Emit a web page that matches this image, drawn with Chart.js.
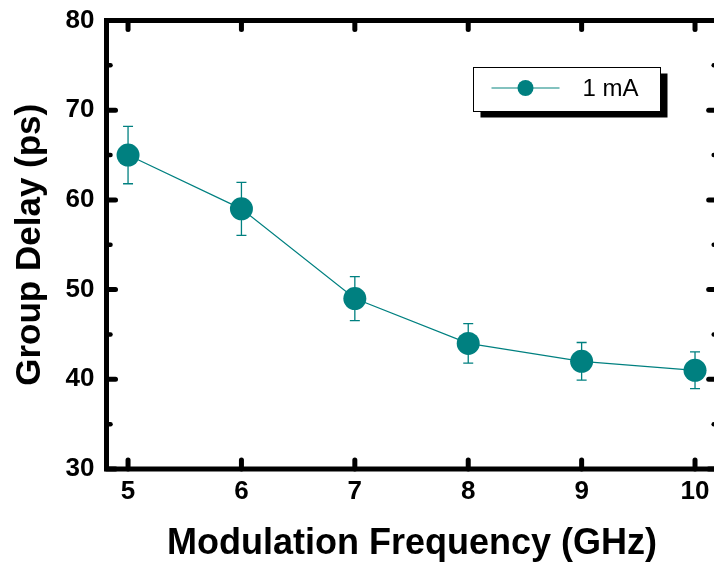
<!DOCTYPE html>
<html>
<head>
<meta charset="utf-8">
<script src="https://cdn.jsdelivr.net/npm/chart.js@4.4.1/dist/chart.umd.min.js"></script>
<style>
  html, body { margin: 0; padding: 0; width: 714px; height: 566px; overflow: hidden; background: #fff; }
  canvas { display: block; }
</style>
</head>
<body>
<canvas id="myChart" width="724" height="566"></canvas>
<script>
// data
const frequencies = [5, 6, 7, 8, 9, 10];
const groupDelay = [65, 59, 49, 44, 42, 41];
const delayError = [3.2, 2.95, 2.45, 2.2, 2.1, 2.05];
const xTicks = [5, 6, 7, 8, 9, 10];
const yTicks = [30, 40, 50, 60, 70, 80];
const yMinorTicks = [35, 45, 55, 65, 75];
const seriesLabel = "1 mA";

const FONT = '"Liberation Sans", Arial, sans-serif';
const TEAL = "#008080";

// vertical error bars with caps, drawn under the markers
const errorBars = {
  id: "errorBars",
  beforeDatasetsDraw(chart) {
    const { ctx, scales: { x, y } } = chart;
    ctx.save();
    ctx.strokeStyle = TEAL;
    ctx.lineWidth = 1.3;
    frequencies.forEach((f, i) => {
      const px = x.getPixelForValue(f);
      const top = y.getPixelForValue(groupDelay[i] + delayError[i]);
      const bot = y.getPixelForValue(groupDelay[i] - delayError[i]);
      ctx.beginPath();
      ctx.moveTo(px, top); ctx.lineTo(px, bot);
      ctx.moveTo(px - 5, top); ctx.lineTo(px + 5, top);
      ctx.moveTo(px - 5, bot); ctx.lineTo(px + 5, bot);
      ctx.stroke();
    });
    ctx.restore();
  }
};

// thick box frame with inward ticks on all four sides
const frame = {
  id: "frame",
  afterDraw(chart) {
    const { ctx, chartArea: a, scales: { x, y } } = chart;
    ctx.save();
    ctx.strokeStyle = "#000";
    ctx.lineWidth = 5;
    ctx.lineJoin = "miter";
    ctx.strokeRect(a.left, a.top, a.right - a.left, a.bottom - a.top);

    const tick = (x1, y1, x2, y2) => {
      ctx.beginPath(); ctx.moveTo(x1, y1); ctx.lineTo(x2, y2); ctx.stroke();
    };
    ctx.lineCap = "round";
    ctx.lineWidth = 5;
    xTicks.forEach(v => {
      const px = x.getPixelForValue(v);
      tick(px, a.bottom, px, a.bottom - 9);
      tick(px, a.top, px, a.top + 9);
    });
    yTicks.forEach(v => {
      const py = y.getPixelForValue(v);
      tick(a.left, py, a.left + 9, py);
      tick(a.right, py, a.right - 9, py);
    });
    ctx.lineWidth = 4.5;
    yMinorTicks.forEach(v => {
      const py = y.getPixelForValue(v);
      tick(a.left, py, a.left + 4, py);
      tick(a.right, py, a.right - 4, py);
    });
    ctx.restore();
  }
};

// boxed legend with a drop shadow
const legendBox = {
  id: "legendBox",
  afterDraw(chart) {
    const { ctx } = chart;
    const bx = 473.5, by = 67.5, bw = 187, bh = 44;
    ctx.save();
    ctx.fillStyle = "#000";
    ctx.fillRect(bx + 7, by + 6, bw, bh);
    ctx.fillStyle = "#fff";
    ctx.fillRect(bx, by, bw, bh);
    ctx.strokeStyle = "#000";
    ctx.lineWidth = 1;
    ctx.strokeRect(bx, by, bw, bh);
    const cy = by + 20.5;
    ctx.strokeStyle = "#5aaeaa";
    ctx.lineWidth = 1.5;
    ctx.beginPath(); ctx.moveTo(bx + 18, cy); ctx.lineTo(bx + 86, cy); ctx.stroke();
    ctx.fillStyle = TEAL;
    ctx.beginPath(); ctx.arc(bx + 52, cy, 8, 0, Math.PI * 2); ctx.fill();
    ctx.fillStyle = "#000";
    ctx.font = "24px " + FONT;
    ctx.textBaseline = "middle";
    ctx.fillText(seriesLabel, bx + 109, cy + 1);
    ctx.restore();
  }
};

const ctx = document.getElementById("myChart");

new Chart(ctx, {
  type: "scatter",
  data: {
    datasets: [
      {
        label: seriesLabel,
        data: frequencies.map((f, i) => ({ x: f, y: groupDelay[i] })),
        showLine: true,
        borderColor: TEAL,
        borderWidth: 1.2,
        pointRadius: 11.5,
        pointBackgroundColor: TEAL,
        pointBorderWidth: 0,
      },
    ],
  },
  options: {
    responsive: false,
    animation: false,
    // canvas is a bit wider than the page so the right frame edge is cut off
    layout: { autoPadding: false, padding: { top: 20.5, right: 6.3, bottom: 0, left: 0 } },
    plugins: {
      legend: { display: false },
      tooltip: { enabled: false },
    },
    scales: {
      x: {
        type: "linear",
        min: 4.81,
        max: 10.2,
        afterBuildTicks: (s) => { s.ticks = xTicks.map(v => ({ value: v })); },
        afterFit: (s) => { s.height = 97; s.paddingLeft = 0; s.paddingRight = 0; },
        grid: { display: false, drawTicks: false },
        border: { display: false },
        ticks: {
          color: "#000",
          padding: 7,
          maxRotation: 0,
          font: { family: FONT, weight: "bold", size: 26 },
        },
        title: {
          display: true,
          text: "Modulation Frequency (GHz)",
          color: "#000",
          padding: { top: 0, bottom: 0 },
          font: { family: FONT, weight: "bold", size: 36 },
        },
      },
      y: {
        min: 30,
        max: 80,
        afterBuildTicks: (s) => { s.ticks = yTicks.map(v => ({ value: v })); },
        afterFit: (s) => { s.width = 106.5; s.paddingTop = 0; s.paddingBottom = 0; },
        grid: { display: false, drawTicks: false },
        border: { display: false },
        ticks: {
          color: "#000",
          padding: 12,
          font: { family: FONT, weight: "bold", size: 26 },
        },
        title: {
          display: true,
          text: "Group Delay (ps)",
          color: "#000",
          padding: { top: 9, bottom: 0 },
          font: { family: FONT, weight: "bold", size: 35 },
        },
      },
    },
  },
  plugins: [errorBars, frame, legendBox],
});
</script>
</body>
</html>
